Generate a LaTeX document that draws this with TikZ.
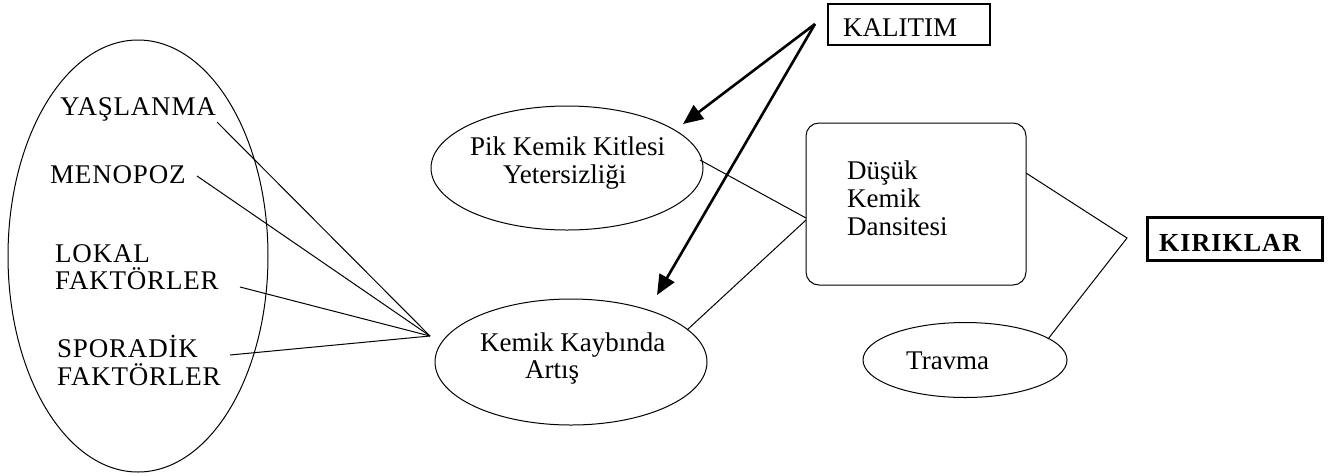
\documentclass[tikz,border=0pt]{standalone}
\usepackage{fontspec}
\setmainfont{Liberation Serif}
\usetikzlibrary{shapes.geometric,arrows.meta}
\begin{document}
\begin{tikzpicture}[x=1pt,y=-1pt,
  every node/.style={font=\fontsize{27}{28}\selectfont},
  oval/.style={draw, ellipse, line width=1pt, inner sep=0pt},
  lbl/.style={inner sep=0pt, anchor=base west},
  caps/.style={lbl, font=\fontsize{27}{28}\selectfont\addfontfeature{LetterSpace=3}},
  link/.style={line width=1pt},
  heavy/.style={line width=2.6pt, -{Triangle[length=20pt,width=17pt]}}]
\useasboundingbox (0,0) rectangle (1334,475);

% shapes
\node[oval, minimum width=260pt, minimum height=432pt] (risk) at (138,256) {};
\node[oval, minimum width=272pt, minimum height=124pt] (pik) at (567,168) {};
\node[oval, minimum width=272pt, minimum height=126pt] (kay) at (571,362) {};
\node[oval, minimum width=204pt, minimum height=75pt] (trv) at (965,360) {};
\node[draw, line width=1pt, rounded corners=13pt, minimum width=220pt, minimum height=162pt, inner sep=0pt] (dks) at (916,204) {};
\node[draw, line width=1.3pt, minimum width=162pt, minimum height=41pt, inner sep=0pt] (kal) at (909,24.5) {};
\node[draw, line width=3pt, minimum width=175pt, minimum height=43pt, inner sep=0pt] (kir) at (1234.5,238.5) {};

% texts
\node[caps] (tyas) at (60,115) {YAŞLANMA};
\node[caps] (tmen) at (50,183) {MENOPOZ};
\node[caps] (tlok) at (55,262) {LOKAL};
\node[caps] (tlokb) at (55,289) {FAKTÖRLER};
\node[caps] (tspo) at (57,357) {SPORADİK};
\node[caps] (tspob) at (57,385) {FAKTÖRLER};
\node[lbl] (tpik) at (470,155) {Pik Kemik Kitlesi};
\node[lbl] (tpikb) at (503,183) {Yetersizliği};
\node[lbl] (tkay) at (480,351) {Kemik Kaybında};
\node[lbl] (tkayb) at (525,378) {Artış};
\node[lbl] (tdks1) at (847,179) {Düşük};
\node[lbl] (tdks2) at (847,207) {Kemik};
\node[lbl] (tdks3) at (847,235) {Dansitesi};
\node[lbl] (tkal) at (843,36) {KALITIM};
\node[lbl] (ttrv) at (906,369) {Travma};
\node[lbl, font=\fontsize{26}{27}\selectfont\bfseries\addfontfeature{LetterSpace=4}] (tkir) at (1159,251) {KIRIKLAR};

% coordinates for connector ends
\coordinate (yasE) at (217,122);
\coordinate (menE) at (197,176);
\coordinate (lokE) at (240,287);
\coordinate (spoE) at (230,355);
\coordinate (cv) at (430,336);
\coordinate (pikE) at (700,160);
\coordinate (kayE) at (687,330);
\coordinate (dksW1) at (806,218);
\coordinate (dksW2) at (806,220);
\coordinate (dksE) at (1026,173);
\coordinate (kirV) at (1127,238);
\coordinate (trvE) at (1048,339);
\coordinate (kalS) at (815,24);
\coordinate (tipP) at (683,124);
\coordinate (tipK) at (657,295);

% connectors
\draw[link] (yasE) -- (cv);
\draw[link] (menE) -- (cv);
\draw[link] (lokE) -- (cv);
\draw[link] (spoE) -- (cv);
\draw[link] (pikE) -- (dksW1);
\draw[link] (kayE) -- (dksW2);
\draw[link] (dksE) -- (kirV) -- (trvE);
\draw[heavy] (kalS) -- (tipP);
\draw[heavy] (kalS) -- (tipK);
\end{tikzpicture}
\end{document}
